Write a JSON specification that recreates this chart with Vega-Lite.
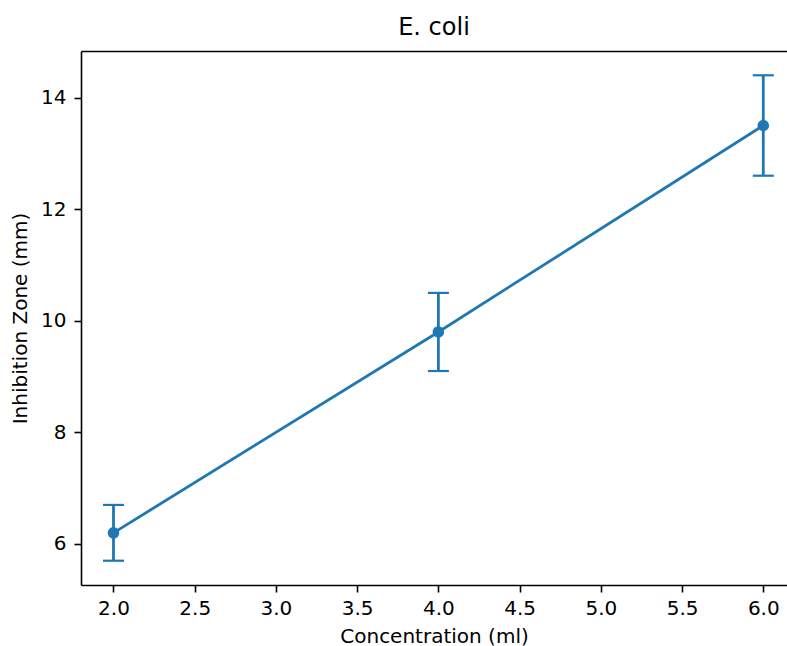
{
  "$schema": "https://vega.github.io/schema/vega-lite/v6.json",
  "autosize": {"type": "none"},
  "padding": {"left": 81, "top": 51, "right": 0, "bottom": 61},
  "width": 706,
  "height": 534,
  "background": "white",
  "title": {"text": "E. coli", "font": "DejaVu Sans", "fontSize": 24, "fontWeight": "normal", "color": "black", "offset": 11},
  "config": {
    "view": {"stroke": null},
    "axis": {"grid": false, "domainColor": "black", "domainWidth": 1.6, "tickColor": "black", "tickSize": 7, "tickWidth": 1.6, "labelFont": "DejaVu Sans", "labelFontSize": 20, "labelColor": "black", "titleFont": "DejaVu Sans", "titleFontSize": 20, "titleFontWeight": "normal", "titleColor": "black", "labelPadding": 6}
  },
  "data": {"values": [
    {"conc": 2, "zone": 6.2, "lo": 5.7, "hi": 6.7},
    {"conc": 4, "zone": 9.8, "lo": 9.1, "hi": 10.5},
    {"conc": 6, "zone": 13.5, "lo": 12.6, "hi": 14.4}
  ]},
  "layer": [
    {
      "layer": [
        {
          "mark": {"type": "rule", "color": "#1f77b4", "strokeWidth": 2.8},
          "encoding": {
            "x": {"field": "conc", "type": "quantitative", "scale": {"domain": [1.8, 6.146], "nice": false, "zero": false},
              "axis": {"title": "Concentration (ml)", "values": [2, 2.5, 3, 3.5, 4, 4.5, 5, 5.5, 6], "format": ".1f", "titlePadding": 8}},
            "y": {"field": "lo", "type": "quantitative", "scale": {"domain": [5.265, 14.835], "nice": false, "zero": false},
              "axis": {"title": "Inhibition Zone (mm)", "values": [6, 8, 10, 12, 14], "format": "d", "titlePadding": 10, "labelPadding": 8}},
            "y2": {"field": "hi"}
          }
        },
        {
          "mark": {"type": "tick", "orient": "horizontal", "color": "#1f77b4", "size": 21, "thickness": 2.2, "opacity": 1},
          "encoding": {"x": {"field": "conc", "type": "quantitative"}, "y": {"field": "lo", "type": "quantitative"}}
        },
        {
          "mark": {"type": "tick", "orient": "horizontal", "color": "#1f77b4", "size": 21, "thickness": 2.2, "opacity": 1},
          "encoding": {"x": {"field": "conc", "type": "quantitative"}, "y": {"field": "hi", "type": "quantitative"}}
        },
        {
          "mark": {"type": "line", "color": "#1f77b4", "strokeWidth": 2.8},
          "encoding": {"x": {"field": "conc", "type": "quantitative"}, "y": {"field": "zone", "type": "quantitative"}}
        },
        {
          "mark": {"type": "point", "filled": true, "color": "#1f77b4", "size": 135, "opacity": 1, "shape": "circle"},
          "encoding": {"x": {"field": "conc", "type": "quantitative"}, "y": {"field": "zone", "type": "quantitative"}}
        }
      ]
    },
    {
      "mark": {"type": "point", "opacity": 0},
      "encoding": {
        "x": {"field": "conc", "type": "quantitative", "axis": {"orient": "top", "title": null, "ticks": false, "labels": false}},
        "y": {"field": "zone", "type": "quantitative", "axis": null}
      }
    }
  ],
  "resolve": {"axis": {"x": "independent", "y": "independent"}}
}
